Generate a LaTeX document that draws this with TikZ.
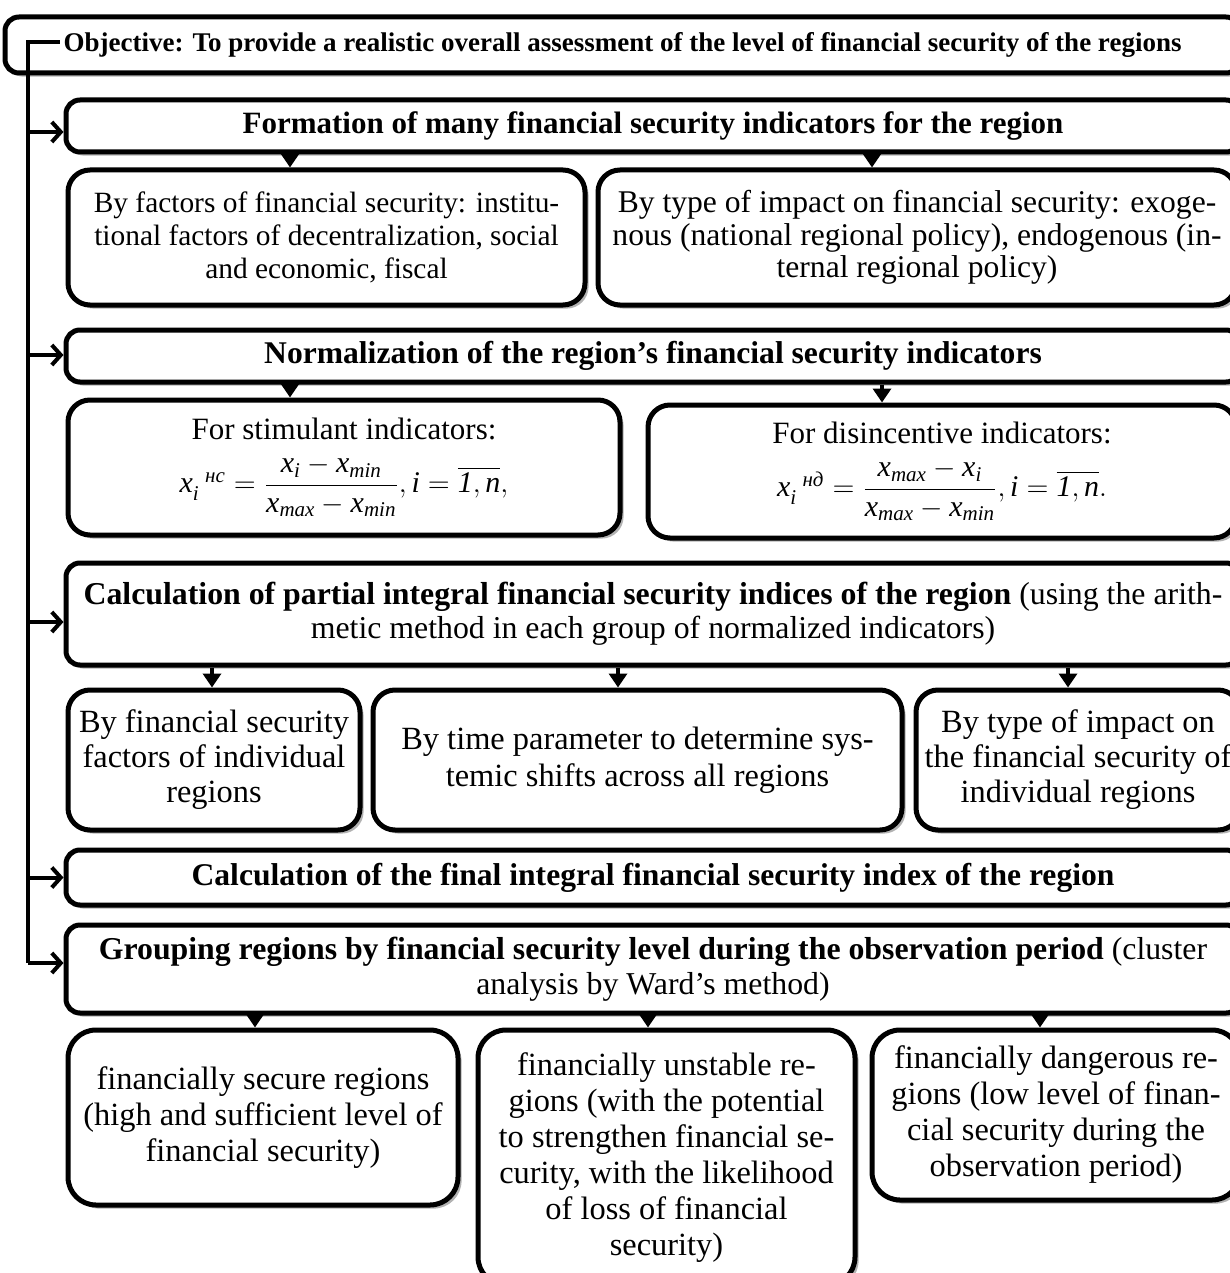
\documentclass[tikz,border=0pt]{standalone}
\usepackage{amsmath}
\usepackage{fontspec}
\setmainfont{Liberation Serif}
\usetikzlibrary{arrows.meta,shadows}
\newcommand\mi[1]{\textit{#1}}
\newcommand\fs[2]{\fontsize{#1}{#2}\selectfont}
\begin{document}
\begin{tikzpicture}[x=0.5pt,y=-0.5pt,
  box/.style={draw,line width=2.5pt,rounded corners=11pt,fill=white,align=center,inner sep=0pt,
    drop shadow={shadow xshift=1.8pt,shadow yshift=-1.8pt,opacity=0.3,fill=black}},
  wide/.style={box,rounded corners=7pt},
  busline/.style={line width=2pt},
  busarrow/.style={line width=2pt,-{Straight Barb[length=4.5pt,width=10pt,line width=2pt]}},
  dnarrow/.style={line width=2pt,-{Triangle[length=7pt,width=9pt]}},
]
\useasboundingbox (0,0) rectangle (1230,1273);
% wide boxes
\node[wide,minimum width=617.5pt,minimum height=28pt,font=\fs{13.5}{15}\bfseries] (obj) at (622.5,45)
  {Objective: To provide a realistic overall assessment of the level of financial security of the regions};
\node[wide,minimum width=587pt,minimum height=26pt,font=\fs{15.5}{17}\bfseries] (form) at (653,126)
  {Formation of many financial security indicators for the region};
\node[wide,minimum width=587pt,minimum height=26pt,font=\fs{15.8}{17}\bfseries] (norm) at (653,356)
  {Normalization of the region’s financial security indicators};
\node[wide,minimum width=587pt,minimum height=51pt,font=\fs{15.9}{17}] (calc) at (653,614)
  {\textbf{Calculation of partial integral financial security indices of the region} (using the arith-\\metic method in each group of normalized indicators)};
\node[wide,minimum width=587pt,minimum height=27.5pt,font=\fs{15.8}{17}\bfseries] (fin) at (653,877.5)
  {Calculation of the final integral financial security index of the region};
\node[wide,minimum width=587pt,minimum height=44pt,font=\fs{15.9}{17.5}] (grp) at (653,969)
  {\textbf{Grouping regions by financial security level during the observation period} (cluster\\analysis by Ward’s method)};
% level 1 sub boxes
\node[box,minimum width=258.5pt,minimum height=67.5pt,font=\fs{14.7}{16.3}] (fac) at (326.5,237.5)
  {By factors of financial security: institu-\\tional factors of decentralization, social\\and economic, fiscal};
\node[box,minimum width=319pt,minimum height=67.5pt,font=\fs{15.8}{16.3}] (imp) at (917,237.5)
  {By type of impact on financial security: exoge-\\nous (national regional policy), endogenous (in-\\ternal regional policy)};
% normalization sub boxes
\node[box,minimum width=276pt,minimum height=67.5pt,font=\fs{15.5}{17}] (stim) at (344,467.5)
  {For stimulant indicators:\\[7pt]
   {\fs{15}{17}$\mi{x}_{\mi{i}}^{\;\;\mi{нс}} = \dfrac{\mi{x}_{\mi{i}} - \mi{x}_{\mi{min}}}{\mi{x}_{\mi{max}} - \mi{x}_{\mi{min}}}, \mi{i} = \overline{\mi{1},\mi{n}},$}};
\node[box,minimum width=294pt,minimum height=66.5pt,font=\fs{15.5}{17}] (dis) at (942,471.5)
  {For disincentive indicators:\\[7pt]
   {\fs{15}{17}$\mi{x}_{\mi{i}}^{\;\;\mi{нд}} = \dfrac{\mi{x}_{\mi{max}} - \mi{x}_{\mi{i}}}{\mi{x}_{\mi{max}} - \mi{x}_{\mi{min}}}, \mi{i} = \overline{\mi{1},\mi{n}}.$}};
% partial index sub boxes
\node[box,minimum width=146pt,minimum height=70pt,font=\fs{16.2}{17.5}] (s1) at (214,760)
  {By financial security\\factors of individual\\regions};
\node[box,minimum width=264.5pt,minimum height=70pt,font=\fs{16.2}{18.5}] (s2) at (637.5,760)
  {By time parameter to determine sys-\\temic shifts across all regions};
\node[box,minimum width=162pt,minimum height=70pt,font=\fs{16.2}{17.5}] (s3) at (1078,760)
  {By type of impact on\\the financial security of\\individual regions};
% grouping sub boxes
\node[box,rounded corners=14pt,minimum width=195pt,minimum height=87.5pt,font=\fs{16.2}{18}] (b1) at (263,1117.5)
  {financially secure regions\\(high and sufficient level of\\financial security)};
\node[box,rounded corners=14pt,minimum width=188.5pt,minimum height=127.5pt,font=\fs{16.2}{18}] (b2) at (666.5,1157.5)
  {financially unstable re-\\gions (with the potential\\to strengthen financial se-\\curity, with the likelihood\\of loss of financial\\security)};
\node[box,rounded corners=14pt,minimum width=184pt,minimum height=85pt,font=\fs{16.2}{18}] (b3) at (1056,1115)
  {financially dangerous re-\\gions (low level of finan-\\cial security during the\\observation period)};
% bus on the left
\coordinate (bt) at (28,42);
\coordinate (bb) at (28,963);
\draw[busline] (bt -| obj.west) ++(57,0) -- (bt) -- (bb);
\draw[busarrow] (28,132) -- (form.west |- 0,132);
\draw[busarrow] (28,355) -- (norm.west |- 0,355);
\draw[busarrow] (28,622) -- (calc.west |- 0,622);
\draw[busarrow] (28,877.5) -- (fin.west |- 0,877.5);
\draw[busarrow] (bb) -- (grp.west |- bb);
% down arrows
\coordinate (a1) at (290,0);
\coordinate (a2) at (872,0);
\coordinate (a3) at (290,0);
\coordinate (a4) at (882,0);
\coordinate (a5) at (212,0);
\coordinate (a6) at (618,0);
\coordinate (a7) at (1068,0);
\coordinate (a8) at (255,0);
\coordinate (a9) at (648,0);
\coordinate (a10) at (1040,0);
\draw[dnarrow] (a1 |- form.south) -- (a1 |- fac.north);
\draw[dnarrow] (a2 |- form.south) -- (a2 |- imp.north);
\draw[dnarrow] (a3 |- norm.south) -- (a3 |- stim.north);
\draw[dnarrow] (a4 |- norm.south) -- (a4 |- dis.north);
\draw[dnarrow] (a5 |- calc.south) -- (a5 |- s1.north);
\draw[dnarrow] (a6 |- calc.south) -- (a6 |- s2.north);
\draw[dnarrow] (a7 |- calc.south) -- (a7 |- s3.north);
\draw[dnarrow] (a8 |- grp.south) -- (a8 |- b1.north);
\draw[dnarrow] (a9 |- grp.south) -- (a9 |- b2.north);
\draw[dnarrow] (a10 |- grp.south) -- (a10 |- b3.north);
\end{tikzpicture}
\end{document}
